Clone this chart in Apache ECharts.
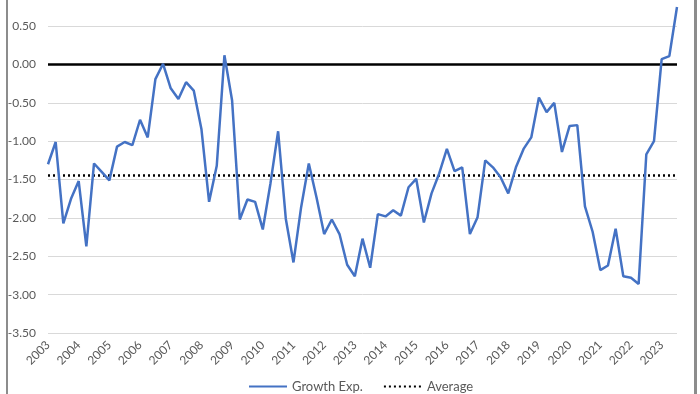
<!DOCTYPE html>
<html>
<head>
<meta charset="utf-8">
<script src="https://cdn.jsdelivr.net/npm/echarts@6/dist/echarts.min.js"></script>
<style>
html,body{margin:0;padding:0;background:#fff;}
#chart{width:700px;height:394px;}
</style>
</head>
<body>
<div id="chart"></div>
<script>
// Year tick labels (one label per 4 quarterly categories)
var years = ['2003','2004','2005','2006','2007','2008','2009','2010','2011','2012','2013',
             '2014','2015','2016','2017','2018','2019','2020','2021','2022','2023'];
var quarters = ['Q1','Q2','Q3','Q4'];
// Quarterly categories 2003Q1 .. 2023Q3
var categories = [];
years.forEach(function (y) { quarters.forEach(function (q) { categories.push(y + ' ' + q); }); });
categories = categories.slice(0, 83);

// Growth Exp. series
var growthExp = [
  -1.30, -1.01, -2.07, -1.75, -1.52, -2.37, -1.29, -1.40, -1.51, -1.07,
  -1.01, -1.05, -0.72, -0.95, -0.19,  0.01, -0.31, -0.45, -0.23, -0.34,
  -0.84, -1.79, -1.32,  0.12, -0.47, -2.02, -1.76, -1.79, -2.15, -1.55,
  -0.87, -2.01, -2.58, -1.86, -1.29, -1.73, -2.21, -2.02, -2.21, -2.61,
  -2.76, -2.27, -2.65, -1.95, -1.98, -1.90, -1.97, -1.60, -1.49, -2.06,
  -1.68, -1.42, -1.10, -1.39, -1.34, -2.21, -1.99, -1.25, -1.34, -1.47,
  -1.68, -1.34, -1.10, -0.95, -0.43, -0.62, -0.50, -1.14, -0.80, -0.79,
  -1.85, -2.18, -2.68, -2.62, -2.14, -2.76, -2.78, -2.86, -1.17, -1.00,
   0.07,  0.11,  0.75
];
var averageValue = -1.44;
var zeroValue = 0;

var font = 'Lato, "Open Sans", sans-serif';
var chart = echarts.init(document.getElementById('chart'));
chart.setOption({
  animation: false,
  backgroundColor: '#ffffff',
  textStyle: { fontFamily: font },
  graphic: [
    { type: 'line', shape: { x1: 7, y1: 0, x2: 7, y2: 394 }, style: { stroke: '#404040', lineWidth: 1.2 }, z: 100 },
    { type: 'rect', shape: { x: 694, y: 0, width: 3, height: 394 }, style: { fill: '#8c8c8c' }, z: 100 }
  ],
  grid: { left: 48, right: 23, top: 7, bottom: 61, containLabel: false },
  legend: {
    left: 243, top: 375,
    itemWidth: 38, itemHeight: 12, itemGap: 20,
    itemStyle: { color: 'transparent', borderWidth: 0, opacity: 0 },
    textStyle: { fontSize: 13, color: '#595959', fontFamily: font },
    data: ['Growth Exp.', 'Average']
  },
  xAxis: {
    type: 'category',
    data: categories,
    boundaryGap: false,
    axisLine: { show: false },
    axisTick: { show: false },
    splitLine: { show: false },
    axisLabel: {
      interval: 3,
      rotate: 45,
      margin: 10,
      fontSize: 12,
      color: '#595959',
      fontFamily: font,
      formatter: function (v) { return v.slice(0, 4); }
    }
  },
  yAxis: {
    type: 'value',
    min: -3.5, max: 0.75, interval: 0.5,
    axisLine: { show: false },
    axisTick: { show: false },
    splitLine: { show: true, showMaxLine: false, lineStyle: { color: '#d9d9d9', width: 1 } },
    axisLabel: {
      showMaxLabel: false,
      margin: 12,
      fontSize: 12,
      color: '#595959',
      fontFamily: font,
      formatter: function (v) { return v.toFixed(2); }
    }
  },
  series: [
    {
      name: 'Growth Exp.',
      type: 'line',
      data: growthExp,
      symbol: 'none',
      color: '#4472c4',
      lineStyle: { color: '#4472c4', width: 2.5 },
      z: 5,
      markLine: {
        silent: true, symbol: 'none', label: { show: false },
        lineStyle: { color: '#000000', width: 2.5, type: 'solid' },
        data: [{ yAxis: zeroValue }],
        z: 4
      }
    },
    {
      name: 'Average',
      type: 'line',
      data: [],
      symbol: 'none',
      color: '#000000',
      lineStyle: { color: '#000000', width: 2.5, type: [2, 3] },
      markLine: {
        silent: true, symbol: 'none', label: { show: false },
        lineStyle: { color: '#000000', width: 2.5, type: [2, 3] },
        data: [{ yAxis: averageValue }]
      }
    }
  ]
});
</script>
</body>
</html>
